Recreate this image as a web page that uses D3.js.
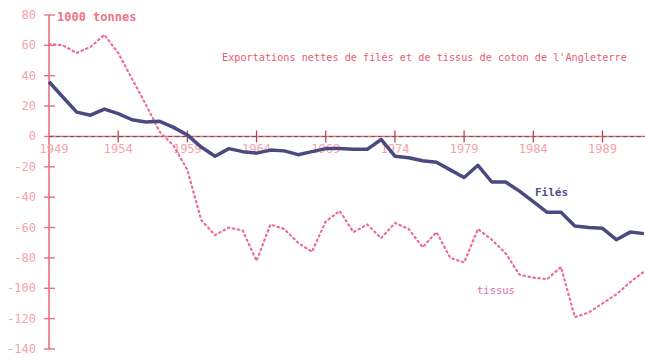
<!DOCTYPE html>
<html>
<head>
<meta charset="utf-8">
<script src="https://cdn.jsdelivr.net/npm/d3@7"></script>
<style>
  body { margin: 0; background: #fff; }
  text { font-family: "DejaVu Sans Mono", monospace; }
</style>
</head>
<body>
<div id="chart"></div>
<script>
// Values (1000 tonnes)
var years = d3.range(1949, 1993);
var files = [36, 26, 16, 14, 18, 15, 11, 9.5, 10, 6, 1, -7, -13, -8, -10, -11, -9, -9.5, -12, -10,
             -8, -8, -8.5, -8.5, -2, -13, -14, -16, -17, -22, -27, -19, -30, -30, -36, -43, -50, -50,
             -59, -60, -60.5, -68, -63, -64];
var tissus = [61, 60, 55, 59, 67, 55, 38, 21, 3, -6, -22, -55, -65, -60, -62, -82, -58, -61, -70, -76,
              -56, -49, -63, -58, -67, -57, -61, -73, -63, -80, -83, -61, -68, -77, -91, -93, -94, -86,
              -119, -116, -110, -104, -96, -89];
var yTicks = [80, 60, 40, 20, 0, -20, -40, -60, -80, -100, -120, -140];
var xTicks = [1949, 1954, 1959, 1964, 1969, 1974, 1979, 1984, 1989];

var W = 645, H = 360;
var svg = d3.select("#chart").append("svg")
    .attr("width", W)
    .attr("height", H);

var x = d3.scaleLinear().domain([1949, 1992]).range([49, 644]);
var y = d3.scaleLinear().domain([-140, 80]).range([349, 15]);

var axisPink = "#ec6f80";
var labelPink = "#f4a3ab";

// y axis line and ticks
svg.append("line")
    .attr("x1", x(1949)).attr("x2", x(1949))
    .attr("y1", y(80)).attr("y2", y(-140))
    .attr("stroke", axisPink).attr("stroke-width", 1.6);

svg.append("g").selectAll("line")
    .data(yTicks)
    .enter().append("line")
        .attr("x1", x(1949) - 5).attr("x2", x(1949) + 6)
        .attr("y1", function(d) { return y(d); })
        .attr("y2", function(d) { return y(d); })
        .attr("stroke", axisPink).attr("stroke-width", 1.4);

svg.append("g").selectAll("text")
    .data(yTicks)
    .enter().append("text")
        .attr("x", 36)
        .attr("y", function(d) { return y(d) + 4; })
        .attr("text-anchor", "end")
        .attr("font-size", "12px")
        .attr("fill", labelPink)
        .text(function(d) { return d; });

// x axis (zero line): pink with dark dashes over it
svg.append("line")
    .attr("x1", x(1949)).attr("x2", W)
    .attr("y1", y(0)).attr("y2", y(0))
    .attr("stroke", axisPink).attr("stroke-width", 1.6);
svg.append("line")
    .attr("x1", x(1949)).attr("x2", W)
    .attr("y1", y(0)).attr("y2", y(0))
    .attr("stroke", "#6a5560").attr("stroke-width", 1)
    .attr("stroke-dasharray", "4,3");

svg.append("g").selectAll("line")
    .data(xTicks.slice(1))
    .enter().append("line")
        .attr("x1", function(d) { return x(d); })
        .attr("x2", function(d) { return x(d); })
        .attr("y1", y(0) - 6).attr("y2", y(0) + 6)
        .attr("stroke", "#b04a5a").attr("stroke-width", 1.3);

svg.append("g").selectAll("text")
    .data(xTicks)
    .enter().append("text")
        .attr("x", function(d, i) { return x(d) + (i === 0 ? 5 : 0); })
        .attr("y", y(0) + 17)
        .attr("text-anchor", "middle")
        .attr("font-size", "12px")
        .attr("fill", labelPink)
        .text(function(d) { return d; });

// series
var line = d3.line()
    .x(function(d, i) { return x(years[i]); })
    .y(function(d) { return y(d); });

svg.append("path")
    .datum(tissus)
    .attr("fill", "none")
    .attr("stroke", "#ea6f9a")
    .attr("stroke-width", 2.2)
    .attr("stroke-dasharray", "1.5,3.5")
    .attr("stroke-linecap", "round")
    .attr("d", line);

svg.append("path")
    .datum(files)
    .attr("fill", "none")
    .attr("stroke", "#4a4a80")
    .attr("stroke-width", 3.5)
    .attr("stroke-linejoin", "round")
    .attr("d", line);

// labels
svg.append("text")
    .attr("x", 57).attr("y", 21)
    .attr("font-size", "12px")
    .attr("font-weight", "bold")
    .attr("fill", "#f07484")
    .text("1000 tonnes");

svg.append("text")
    .attr("x", 222).attr("y", 61)
    .attr("font-size", "10.2px")
    .attr("fill", "#e85a72")
    .text("Exportations nettes de filés et de tissus de coton de l'Angleterre");

svg.append("text")
    .attr("x", 535).attr("y", 196)
    .attr("font-size", "11px")
    .attr("font-weight", "bold")
    .attr("fill", "#50508a")
    .text("Filés");

svg.append("text")
    .attr("x", 477).attr("y", 294)
    .attr("font-size", "10.5px")
    .attr("fill", "#e070a8")
    .text("tissus");
</script>
</body>
</html>
